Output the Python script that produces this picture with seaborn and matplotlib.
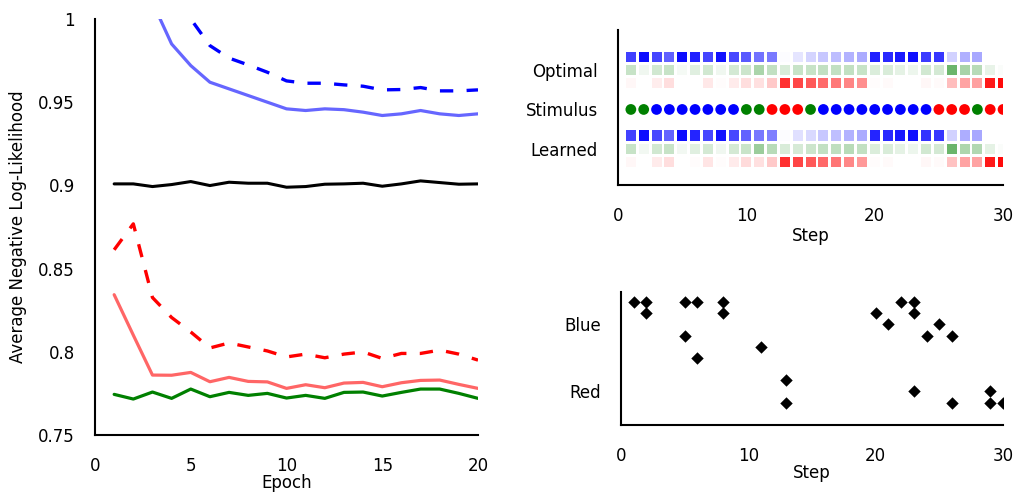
import matplotlib
matplotlib.use("Agg")
import matplotlib.pyplot as plt
import numpy as np
import pandas as pd
import seaborn as sns

# ---- left panel: loss curves per epoch ----
epochs = list(range(1, 21))
blue_solid = [1.09, 1.05, 1.01, 0.985, 0.972, 0.962, 0.958, 0.954, 0.950, 0.946,
              0.945, 0.946, 0.9455, 0.944, 0.942, 0.943, 0.945, 0.943, 0.942, 0.943]
blue_dashed = [1.12, 1.09, 1.06, 1.03, 1.0, 0.984, 0.9765, 0.9724, 0.968, 0.9628,
               0.9614, 0.9614, 0.9604, 0.9596, 0.9574, 0.9576, 0.9588, 0.9568, 0.9568, 0.9574]
black_line = [0.9009, 0.9009, 0.8993, 0.9005, 0.9023, 0.8999, 0.9019, 0.9013, 0.9013, 0.8989,
              0.8993, 0.9007, 0.9009, 0.9013, 0.8995, 0.9009, 0.9027, 0.9017, 0.9007, 0.9009]
red_dashed = [0.8613, 0.8769, 0.8326, 0.8206, 0.8119, 0.8023, 0.8053, 0.8029, 0.8005, 0.7969,
              0.7986, 0.7964, 0.7986, 0.7999, 0.796, 0.799, 0.799, 0.801, 0.7986, 0.795]
red_solid = [0.8343, 0.810, 0.786, 0.7859, 0.7876, 0.782, 0.7846, 0.7822, 0.7819, 0.778,
             0.7802, 0.7784, 0.7812, 0.7816, 0.779, 0.7814, 0.7828, 0.783, 0.7804, 0.778]
green_line = [0.7744, 0.7716, 0.7758, 0.772, 0.7776, 0.773, 0.7756, 0.7738, 0.775, 0.7722,
              0.7738, 0.772, 0.7756, 0.7758, 0.7734, 0.7756, 0.7776, 0.7776, 0.775, 0.772]
loss_ticks = [0.75, 0.8, 0.85, 0.9, 0.95, 1]
loss_tick_labels = ["0.75", "0.8", "0.85", "0.9", "0.95", "1"]

# ---- top right: probabilities per step ----
steps = list(range(1, 31))
stimulus = ["G", "G", "B", "B", "B", "B", "B", "B", "B", "G",
            "G", "R", "R", "R", "G", "B", "B", "B", "B", "B",
            "B", "B", "B", "B", "R", "R", "R", "G", "R", "R"]
opt_blue = [0.75, 0.95, 0.73, 0.62, 0.95, 0.87, 0.73, 0.93, 0.72, 0.65,
            0.55, 0.52, 0.01, 0.10, 0.17, 0.22, 0.26, 0.30, 0.33, 0.87,
            0.84, 0.90, 0.94, 0.77, 0.79, 0.18, 0.31, 0.34, 0.0, 0.0]
opt_green = [0.22, 0.06, 0.18, 0.22, 0.04, 0.12, 0.18, 0.06, 0.17, 0.20,
             0.33, 0.24, 0.15, 0.22, 0.22, 0.24, 0.24, 0.24, 0.22, 0.14,
             0.15, 0.10, 0.07, 0.18, 0.17, 0.58, 0.34, 0.28, 0.09, 0.02]
opt_red = [0.03, 0.0, 0.07, 0.13, 0.0, 0.0, 0.09, 0.01, 0.08, 0.13,
           0.12, 0.21, 0.81, 0.72, 0.65, 0.58, 0.53, 0.48, 0.44, 0.01,
           0.02, 0.0, 0.0, 0.03, 0.02, 0.26, 0.36, 0.37, 0.90, 0.96]
learned_blue = [0.74, 0.95, 0.72, 0.61, 0.95, 0.86, 0.72, 0.93, 0.72, 0.62,
                0.53, 0.50, 0.01, 0.12, 0.15, 0.22, 0.25, 0.30, 0.33, 0.86,
                0.84, 0.90, 0.94, 0.80, 0.79, 0.18, 0.32, 0.34, 0.0, 0.0]
learned_green = [0.22, 0.05, 0.18, 0.22, 0.05, 0.12, 0.17, 0.06, 0.17, 0.21,
                 0.39, 0.28, 0.15, 0.16, 0.20, 0.24, 0.25, 0.28, 0.24, 0.14,
                 0.15, 0.10, 0.07, 0.18, 0.17, 0.58, 0.32, 0.30, 0.10, 0.02]
learned_red = [0.03, 0.0, 0.08, 0.13, 0.0, 0.01, 0.10, 0.01, 0.08, 0.14,
               0.12, 0.21, 0.81, 0.73, 0.65, 0.59, 0.54, 0.47, 0.40, 0.01,
               0.02, 0.0, 0.0, 0.03, 0.02, 0.24, 0.36, 0.36, 0.90, 0.96]
row_labels = ["Learned", "Stimulus", "Optimal"]

# ---- bottom right: choice scatter ----
choice_steps = [1, 2, 2, 5, 5, 6, 6, 8, 8, 11, 13, 13, 20, 21, 22, 23, 23, 23,
                24, 25, 26, 26, 29, 29, 30]
choice_level = [9, 9, 8, 9, 6, 9, 4, 9, 8, 5, 2, 0, 8, 7, 9, 9, 8, 1,
                6, 7, 6, 0, 1, 0, 0]
choice_labels = ["Red", "Blue"]

sns.set_theme(style="white", context="notebook")
plt.rcParams.update({"text.color": "black", "axes.labelcolor": "black",
                     "xtick.color": "black", "ytick.color": "black",
                     "axes.edgecolor": "black",
                     "xtick.labelsize": 12, "ytick.labelsize": 12,
                     "axes.labelsize": 12,
                     "xtick.major.pad": 10, "ytick.major.pad": 8.5})

fig = plt.figure(figsize=(10.14, 4.92), dpi=100)
ax1 = fig.add_axes([0.0937, 0.1159, 0.3777, 0.8455])
ax2 = fig.add_axes([0.6095, 0.624, 0.3797, 0.315])
ax3 = fig.add_axes([0.6124, 0.1362, 0.3767, 0.2703])

# left: curves
dash = (0, (4, 4))
sns.lineplot(x=epochs, y=blue_solid, color="#6666ff", lw=2.3, ax=ax1, errorbar=None)
sns.lineplot(x=epochs, y=blue_dashed, color="#0000ff", lw=2.4, linestyle=dash, ax=ax1, errorbar=None)
sns.lineplot(x=epochs, y=black_line, color="black", lw=2.2, ax=ax1, errorbar=None)
sns.lineplot(x=epochs, y=red_dashed, color="#ff0000", lw=2.4, linestyle=dash, ax=ax1, errorbar=None)
sns.lineplot(x=epochs, y=red_solid, color="#ff6666", lw=2.3, ax=ax1, errorbar=None)
sns.lineplot(x=epochs, y=green_line, color="#008000", lw=2.3, ax=ax1, errorbar=None)
ax1.set_xlim(0, 20)
ax1.set_ylim(0.75, 1)
ax1.set_xticks([0, 5, 10, 15, 20])
ax1.set_yticks(loss_ticks)
ax1.set_yticklabels(loss_tick_labels)
ax1.set_xlabel("Epoch", labelpad=-1)
ax1.set_ylabel("Average Negative Log-Likelihood", labelpad=8)

# top right: probability squares and stimulus dots
def prob_row(ax, probs, rgb, y):
    cols = [(rgb[0], rgb[1], rgb[2], p) for p in probs]
    ax.scatter(steps, [y] * len(steps), c=cols, marker="s", s=52, linewidths=0)

blue_rgb = (0, 0, 1)
green_rgb = (0, 0.5, 0)
red_rgb = (1, 0, 0)
prob_row(ax2, opt_blue, blue_rgb, 8)
prob_row(ax2, opt_green, green_rgb, 7)
prob_row(ax2, opt_red, red_rgb, 6)
prob_row(ax2, learned_blue, blue_rgb, 2)
prob_row(ax2, learned_green, green_rgb, 1)
prob_row(ax2, learned_red, red_rgb, 0)
stim_map = {"G": "#008000", "B": "#0000ff", "R": "#ff0000"}
ax2.scatter(steps, [4] * len(steps), c=[stim_map[s] for s in stimulus],
            marker="o", s=60, linewidths=0)
ax2.set_xlim(0, 30)
ax2.set_ylim(-1.8, 10.1)
ax2.set_xticks([0, 10, 20, 30])
ax2.set_yticks([1, 4, 7])
ax2.set_yticklabels(row_labels)
ax2.set_xlabel("Step", labelpad=1)

# bottom right: choices
df = pd.DataFrame({"step": choice_steps, "level": choice_level})
sns.scatterplot(data=df, x="step", y="level", marker="D", color="black",
                s=40, linewidth=0, ax=ax3)
ax3.set_xlim(0, 30)
ax3.set_ylim(-2, 9.9)
ax3.set_xticks([0, 10, 20, 30])
ax3.set_yticks([1, 7])
ax3.set_yticklabels(choice_labels)
ax3.set_xlabel("Step", labelpad=-1)
ax3.set_ylabel("")

for ax in (ax1, ax2, ax3):
    sns.despine(ax=ax)
    for sp in ("left", "bottom"):
        ax.spines[sp].set_linewidth(1.5)

fig.savefig("out.png", dpi=100)
